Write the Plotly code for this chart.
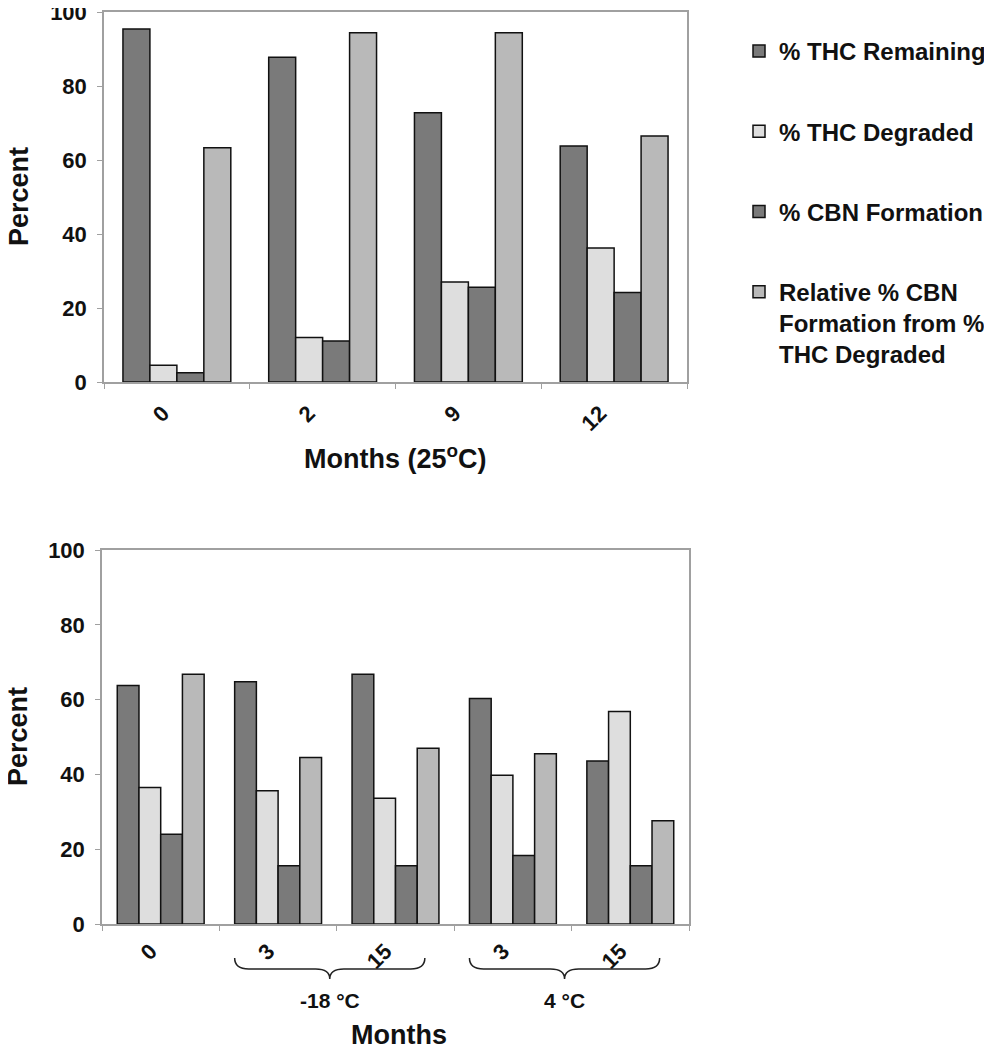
import plotly.graph_objects as go

# ---------------- data ----------------
series_names = ["% THC Remaining", "% THC Degraded", "% CBN Formation",
                "Relative % CBN<br>Formation from %<br>THC Degraded"]
colors = ["#7a7a7a", "#dedede", "#7a7a7a", "#b9b9b9"]

top_months = ["0", "2", "9", "12"]
top_thc_remaining = [95.4, 87.8, 72.8, 63.8]
top_thc_degraded = [4.5, 12.0, 27.0, 36.2]
top_cbn_formation = [2.5, 11.1, 25.6, 24.2]
top_relative_cbn = [63.3, 94.4, 94.4, 66.5]

bot_months = ["0", "3", "15", "3", "15"]
bot_thc_remaining = [63.8, 64.8, 66.8, 60.3, 43.6]
bot_thc_degraded = [36.5, 35.6, 33.6, 39.8, 56.8]
bot_cbn_formation = [24.0, 15.6, 15.6, 18.3, 15.6]
bot_relative_cbn = [66.8, 44.5, 47.0, 45.5, 27.6]

bot_groups = ["-18 \u00b0C", "4 \u00b0C"]
bot_group_members = [[1, 2], [3, 4]]

top_series = [top_thc_remaining, top_thc_degraded, top_cbn_formation, top_relative_cbn]
bot_series = [bot_thc_remaining, bot_thc_degraded, bot_cbn_formation, bot_relative_cbn]

FONT = "Liberation Sans, Arial, sans-serif"

fig = go.Figure()
top_x = list(range(len(top_months)))
bot_x = list(range(len(bot_months)))

for i, (name, vals) in enumerate(zip(series_names, top_series)):
    fig.add_trace(go.Bar(
        x=top_x, y=vals, name=name, xaxis="x", yaxis="y",
        marker=dict(color=colors[i], line=dict(color="#111111", width=1.5)),
        legendgroup=f"g{i}", showlegend=True))

for i, (name, vals) in enumerate(zip(series_names, bot_series)):
    fig.add_trace(go.Bar(
        x=bot_x, y=vals, name=name, xaxis="x2", yaxis="y2",
        marker=dict(color=colors[i], line=dict(color="#111111", width=1.5)),
        legendgroup=f"g{i}", showlegend=False))

# the page body adds an 8px offset; the figure is sized to fill the rest
OFF = 8
W, H = 992 - OFF, 1050 - OFF

def px_x(p):
    return (p - OFF) / W

def px_y(p):
    return 1 - (p - OFF) / H

axis_line = "#a0a0a0"
tickfont = dict(family=FONT, size=22, color="#111111", weight="bold")
ytickfont = dict(family=FONT, size=22, color="#111111", weight="bold")

def xaxis_cfg(n, labels, dom, anchor, standoff, shift):
    return dict(
        domain=dom, anchor=anchor, range=[-0.5, n - 0.5],
        tickmode="array", tickvals=list(range(n)), ticktext=labels,
        tickangle=-45, tickfont=tickfont, ticks="",
        ticklabelstandoff=standoff, ticklabelshift=shift,
        ticklabeloverflow="allow",
        showline=True, linecolor=axis_line, linewidth=1.5, mirror=True,
        showgrid=False, zeroline=False,
        minor=dict(tickmode="array", tickvals=[k - 0.5 for k in range(n + 1)],
                   ticks="outside", ticklen=5, tickcolor=axis_line, tickwidth=1),
    )

def yaxis_cfg(dom, anchor):
    return dict(
        domain=dom, anchor=anchor, range=[0, 100], dtick=20,
        tickfont=ytickfont, ticks="outside", ticklen=5, tickcolor=axis_line,
        ticklabelstandoff=6, ticklabeloverflow="allow",
        showline=True, linecolor=axis_line, linewidth=1.5, mirror=True,
        showgrid=False, zeroline=False,
    )

fig.update_layout(
    width=W, height=H,
    margin=dict(l=0, r=0, t=0, b=0, autoexpand=False),
    paper_bgcolor="white", plot_bgcolor="white",
    barmode="group", bargap=0.26, bargroupgap=0,
    font=dict(family=FONT, color="#111111"),
    xaxis=xaxis_cfg(len(top_months), top_months, [px_x(104), px_x(687)], "y", 8, -14),
    yaxis=yaxis_cfg([px_y(382), px_y(12)], "x"),
    xaxis2=xaxis_cfg(len(bot_months), bot_months, [px_x(102), px_x(689)], "y2", 4, -10),
    yaxis2=yaxis_cfg([px_y(924), px_y(550)], "x2"),
    legend=dict(
        x=px_x(739), y=px_y(29), xanchor="left", yanchor="top",
        font=dict(family=FONT, size=24, color="#111111", weight="bold"),
        traceorder="grouped", tracegroupgap=46, valign="top",
        bgcolor="rgba(0,0,0,0)", itemwidth=30,
    ),
)

ann = []
ann.append(dict(text="<b>Months (25<sup>o</sup>C)</b>", x=px_x(395), y=px_y(457),
                xref="paper", yref="paper", showarrow=False,
                font=dict(family=FONT, size=27, color="#111111"),
                xanchor="center", yanchor="middle"))
ann.append(dict(text="<b>Percent</b>", x=px_x(19), y=px_y(197), textangle=-90,
                xref="paper", yref="paper", showarrow=False,
                font=dict(family=FONT, size=27, color="#111111"),
                xanchor="center", yanchor="middle"))
ann.append(dict(text="<b>Percent</b>", x=px_x(18), y=px_y(737), textangle=-90,
                xref="paper", yref="paper", showarrow=False,
                font=dict(family=FONT, size=27, color="#111111"),
                xanchor="center", yanchor="middle"))
ann.append(dict(text="<b>Months</b>", x=px_x(399), y=px_y(1035),
                xref="paper", yref="paper", showarrow=False,
                font=dict(family=FONT, size=27, color="#111111"),
                xanchor="center", yanchor="middle"))

shapes = []
y_top, y_mid, y_tip = px_y(958), px_y(969), px_y(979)
for label, members in zip(bot_groups, bot_group_members):
    x0 = members[0] - 0.37
    x1 = members[-1] + 0.25
    xm = (x0 + x1) / 2
    d = 0.12
    path = (f"M {x0},{y_top} Q {x0},{y_mid} {x0 + d},{y_mid} "
            f"L {xm - d},{y_mid} Q {xm},{y_mid} {xm},{y_tip} "
            f"Q {xm},{y_mid} {xm + d},{y_mid} "
            f"L {x1 - d},{y_mid} Q {x1},{y_mid} {x1},{y_top}")
    shapes.append(dict(type="path", path=path, xref="x2", yref="paper",
                       line=dict(color="#222222", width=1.5)))
    ann.append(dict(text=f"<b>{label}</b>", x=xm, y=px_y(1000),
                    xref="x2", yref="paper", showarrow=False,
                    font=dict(family=FONT, size=21, color="#111111"),
                    xanchor="center", yanchor="middle"))

fig.update_layout(annotations=ann, shapes=shapes)

fig.write_html("out.html")
